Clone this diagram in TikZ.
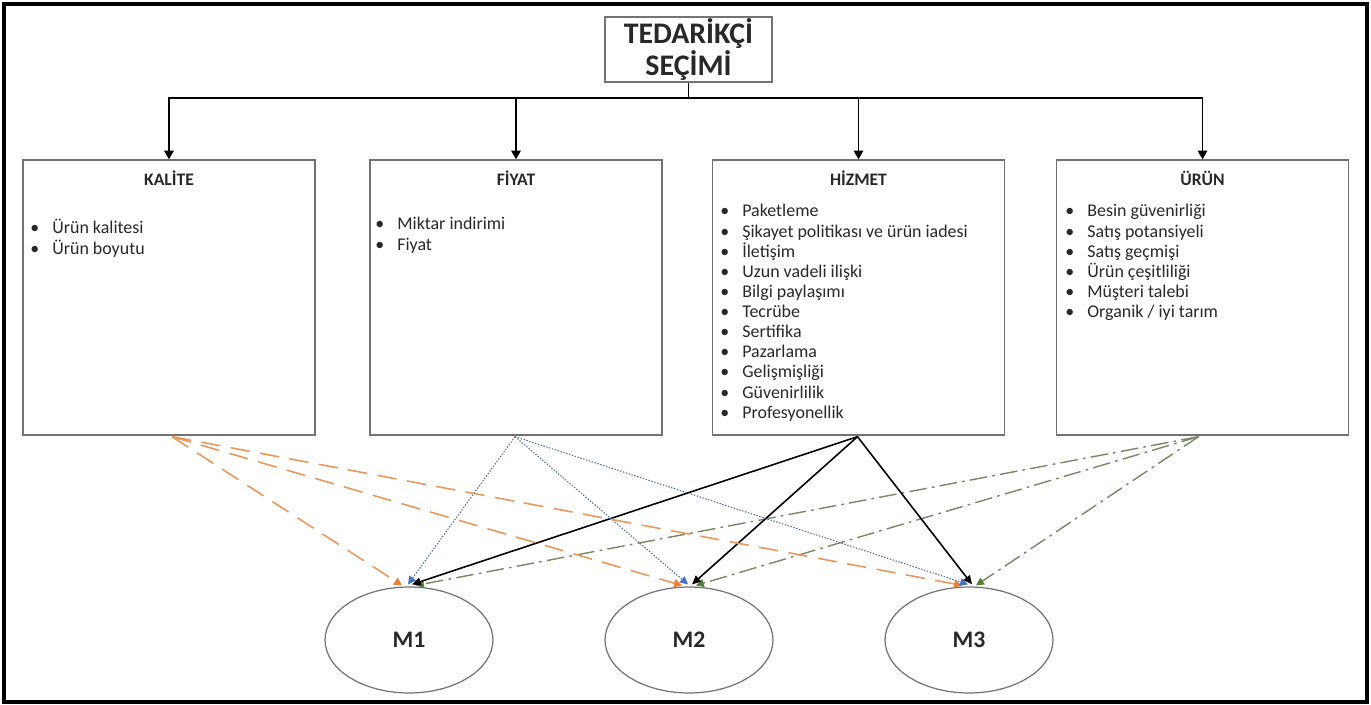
\documentclass[tikz,border=0pt]{standalone}
\usepackage{fontspec}
\setmainfont{Carlito}
\usetikzlibrary{arrows.meta,calc,shapes.geometric}
\definecolor{boxgray}{RGB}{115,115,115}
\definecolor{txt}{RGB}{40,40,40}
\definecolor{orln}{RGB}{236,150,90}
\definecolor{orhd}{RGB}{237,125,49}
\definecolor{blln}{RGB}{80,110,150}
\definecolor{blhd}{RGB}{68,114,196}
\definecolor{grln}{RGB}{120,135,100}
\definecolor{grhd}{RGB}{84,130,53}
\newcommand{\itl}[1]{\hbox{\makebox[0.44cm][l]{\textbullet}#1}}
\begin{document}
\begin{tikzpicture}[x=0.02cm,y=-0.02cm,
  catbox/.style={draw=boxgray,line width=0.8pt,inner sep=0,minimum width=5.84cm,minimum height=5.5cm},
  topbox/.style={draw=boxgray,line width=0.8pt,inner sep=0,minimum width=3.34cm,minimum height=1.3cm,
     align=center,font=\fontsize{17}{14.5}\selectfont\bfseries,text=txt},
  head/.style={font=\fontsize{10}{11}\selectfont\bfseries,inner sep=0,text=txt},
  items/.style={font=\fontsize{10.2}{11.45}\selectfont,anchor=base west,inner sep=0,text=txt},
  mnode/.style={ellipse,draw=boxgray,line width=0.7pt,minimum width=3.36cm,minimum height=2.12cm,
     inner sep=0,font=\fontsize{13.5}{15}\selectfont\bfseries,text=txt},
  treearrow/.style={line width=0.8pt,-{Triangle[width=5.5pt,length=5pt]}},
  orline/.style={draw=orln,line width=0.9pt,dash pattern=on 11pt off 6pt,-{Triangle[width=4.5pt,length=4.5pt,color=orhd]}},
  blline/.style={draw=blln,line width=0.6pt,dash pattern=on 0.8pt off 0.9pt,-{Triangle[width=4.5pt,length=4.5pt,color=blhd]}},
  bkline/.style={draw=black,line width=0.9pt,-{Triangle[width=4.5pt,length=5pt]}},
  grline/.style={draw=grln,line width=0.8pt,dash pattern=on 10pt off 3pt on 1.5pt off 3pt,-{Triangle[width=4.5pt,length=4.5pt,color=grhd]}}
]
\useasboundingbox (0,0) rectangle (1371,705);
\draw[line width=1.8pt] (4,4) rectangle (1367,702);

% top box
\node[topbox] (top) at (688.5,49.5) {TEDARİKÇİ\\SEÇİMİ};

% category boxes
\node[catbox] (kal) at (169,297.5) {};
\node[catbox] (fiy) at (516,297.5) {};
\node[catbox] (hiz) at (858.5,297.5) {};
\node[catbox] (uru) at (1202.5,297.5) {};

\node[head] (kalh) at (169,178) {KALİTE};
\node[head] (fiyh) at (516,178) {FİYAT};
\node[head] (hizh) at (858.5,178) {HİZMET};
\node[head] (uruh) at (1202.5,178) {ÜRÜN};

\node[items] (kali) at (30,234) {\vtop{\itl{Ürün kalitesi}\itl{Ürün boyutu}}};
\node[items] (fiyi) at (375,230) {\vtop{\itl{Miktar indirimi}\itl{Fiyat}}};
\node[items] (hizi) at (720,217) {\vtop{\itl{Paketleme}\itl{Şikayet politikası ve ürün iadesi}\itl{İletişim}\itl{Uzun vadeli ilişki}\itl{Bilgi paylaşımı}\itl{Tecrübe}\itl{Sertifika}\itl{Pazarlama}\itl{Gelişmişliği}\itl{Güvenirlilik}\itl{Profesyonellik}}};
\node[items] (urui) at (1065,217) {\vtop{\itl{Besin güvenirliği}\itl{Satış potansiyeli}\itl{Satış geçmişi}\itl{Ürün çeşitliliği}\itl{Müşteri talebi}\itl{Organik / iyi tarım}}};

% tree connectors
\coordinate (hub) at (688.5,98);
\draw[line width=0.8pt] (top.south) -- (hub);
\draw[treearrow] (hub) -| (kal.north);
\draw[treearrow] (hub) -| (fiy.north);
\draw[treearrow] (hub) -| (hiz.north);
\draw[treearrow] (hub) -| (uru.north);

% ellipses
\node[mnode] (m1) at (409,640) {M1};
\node[mnode] (m2) at (689,640) {M2};
\node[mnode] (m3) at (969,640) {M3};

% sources
\coordinate (ks) at ($(kal.south)+(3,1)$);
\coordinate (fs) at ($(fiy.south)+(-1,1)$);
\coordinate (hs) at ($(hiz.south)+(-1,1)$);
\coordinate (us) at ($(uru.south)+(-4,1)$);

% targets
\foreach \m in {m1,m2,m3}{
  \coordinate (\m o) at ($(\m.north)+(-7,-1)$);
  \coordinate (\m b) at ($(\m.north)+(-1,-2)$);
  \coordinate (\m k) at ($(\m.north)+(3,-2)$);
  \coordinate (\m g) at ($(\m.north)+(7,-1)$);
}

\foreach \m in {m1,m2,m3}{
  \draw[orline] (ks) -- (\m o);
  \draw[blline] (fs) -- (\m b);
  \draw[grline] (us) -- (\m g);
  \draw[bkline] (hs) -- (\m k);
}
\end{tikzpicture}
\end{document}
